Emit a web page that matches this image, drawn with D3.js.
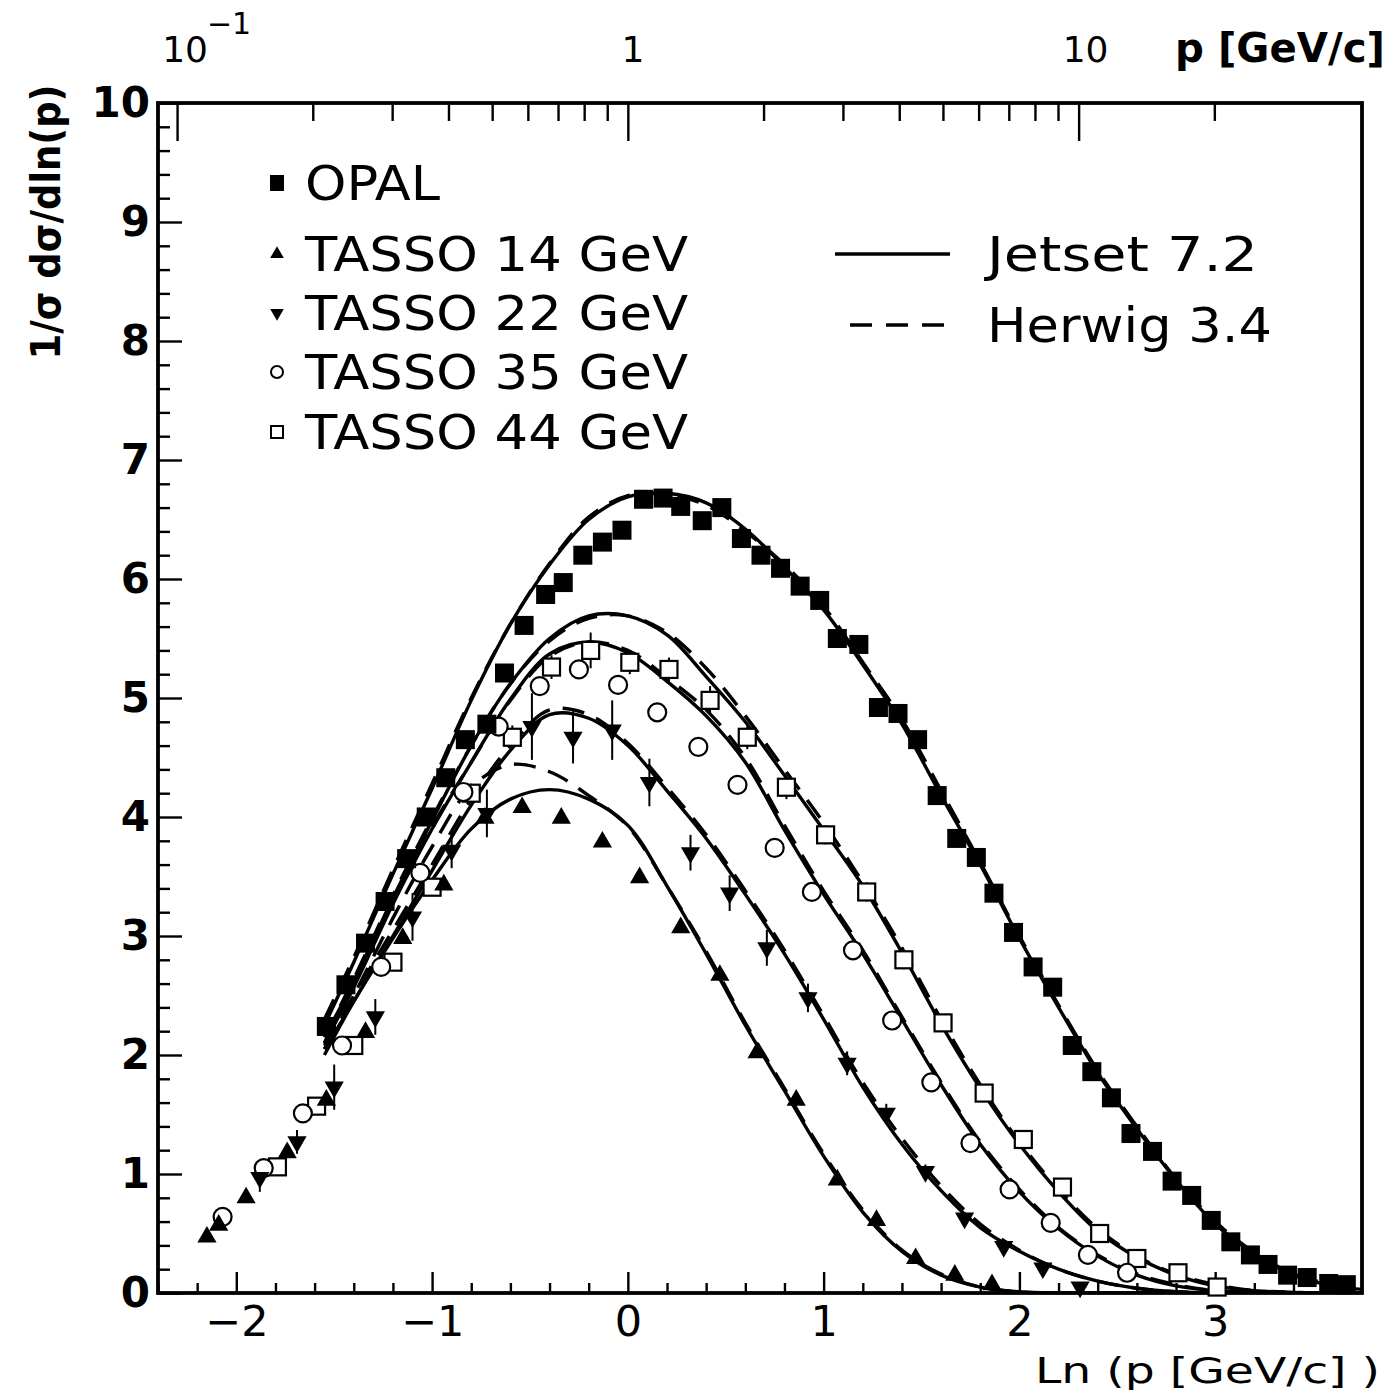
<!DOCTYPE html>
<html><head><meta charset="utf-8">
<script src="https://cdn.jsdelivr.net/npm/d3@7"></script>
<style>html,body{margin:0;padding:0;background:#fff}svg{display:block}text{font-family:"DejaVu Sans",sans-serif;fill:#000}</style>
</head><body>
<svg id="c" width="1398" height="1396"></svg>
<script>
// ---- data ----
const opalX = [-1.54,-1.44,-1.34,-1.24,-1.13,-1.03,-0.93,-0.83,-0.72,-0.63,-0.53,-0.42,-0.33,-0.23,-0.13,-0.03,0.08,0.18,0.27,0.38,0.48,0.58,0.68,0.78,0.88,0.98,1.07,1.18,1.28,1.38,1.48,1.58,1.68,1.78,1.87,1.97,2.07,2.17,2.27,2.37,2.47,2.57,2.68,2.78,2.88,2.98,3.08,3.18,3.27,3.37,3.47,3.58,3.67];
const opalY = [2.24,2.59,2.94,3.29,3.65,4.0,4.33,4.65,4.78,5.21,5.61,5.87,5.97,6.20,6.31,6.41,6.67,6.68,6.61,6.49,6.60,6.34,6.20,6.09,5.94,5.82,5.50,5.45,4.92,4.87,4.65,4.18,3.82,3.66,3.36,3.03,2.74,2.57,2.08,1.86,1.64,1.34,1.19,0.94,0.82,0.61,0.43,0.32,0.24,0.15,0.13,0.08,0.07];

const t14X = [-2.15,-2.09,-1.95,-1.74,-1.54,-1.34,-1.15,-0.94,-0.73,-0.54,-0.34,-0.13,0.06,0.27,0.47,0.66,0.86,1.07,1.27,1.47,1.67,1.86];
const t14Y = [0.47,0.57,0.80,1.18,1.62,2.19,2.98,3.43,3.99,4.08,3.99,3.79,3.49,3.07,2.67,2.02,1.62,0.95,0.61,0.29,0.15,0.07];

const t22X = [-1.88,-1.69,-1.50,-1.29,-1.10,-0.90,-0.72,-0.49,-0.28,-0.08,0.11,0.32,0.52,0.71,0.92,1.12,1.32,1.52,1.72,1.92,2.12,2.31];
const t22Y = [0.97,1.27,1.73,2.32,3.16,3.72,4.03,4.76,4.67,4.73,4.29,3.70,3.36,2.90,2.48,1.93,1.51,1.02,0.63,0.39,0.21,0.05];
const t22E = [0.12,0.10,0.19,0.15,0.20,0.15,0.20,0.28,0.22,0.25,0.20,0.15,0.15,0.15,0.12,0.10,0.08,0.06,0.05,0.04,0.03,0.03];

const t35X = [-2.07,-1.86,-1.66,-1.46,-1.26,-1.06,-0.84,-0.66,-0.45,-0.25,-0.05,0.15,0.36,0.56,0.75,0.94,1.15,1.35,1.55,1.75,1.95,2.16,2.35,2.55];
const t35Y = [0.64,1.05,1.51,2.08,2.74,3.53,4.21,4.76,5.10,5.24,5.11,4.88,4.59,4.27,3.74,3.37,2.88,2.29,1.77,1.26,0.87,0.59,0.32,0.17];

const t44X = [-1.79,-1.59,-1.40,-1.20,-1.00,-0.80,-0.59,-0.39,-0.19,0.01,0.21,0.42,0.61,0.81,1.01,1.22,1.41,1.61,1.82,2.02,2.22,2.41,2.60,2.81,3.01];
const t44Y = [1.06,1.57,2.08,2.78,3.41,4.20,4.67,5.26,5.40,5.30,5.24,4.98,4.67,4.25,3.85,3.37,2.80,2.27,1.68,1.29,0.89,0.50,0.29,0.17,0.05];
const t44E = [0.05,0.05,0.06,0.06,0.07,0.08,0.10,0.10,0.15,0.10,0.10,0.12,0.10,0.10,0.08,0.08,0.08,0.07,0.07,0.06,0.05,0.05,0.04,0.04,0.03];

const curveX = [-1.55,-1.4,-1.2,-1.0,-0.8,-0.6,-0.4,-0.2,0,0.2,0.4,0.6,0.8,1.0,1.2,1.4,1.6,1.8,2.0,2.2,2.4,2.6,2.8,3.0,3.2,3.4,3.6,3.75];
const jetset91 = [2.25,2.78,3.52,4.24,4.98,5.62,6.12,6.5,6.69,6.72,6.64,6.42,6.1,5.74,5.28,4.78,4.18,3.6,2.98,2.4,1.85,1.38,0.95,0.58,0.33,0.15,0.06,0.03];
const jetset44 = [2.15,2.62,3.32,3.97,4.6,5.12,5.5,5.69,5.69,5.53,5.18,4.8,4.35,3.89,3.42,2.86,2.26,1.72,1.25,0.85,0.52,0.3,0.15,0.06,0.02,0.005,0,0];
const jetset35 = [2.1,2.57,3.27,3.9,4.46,4.99,5.37,5.47,5.38,5.14,4.85,4.46,3.89,3.35,2.85,2.3,1.75,1.25,0.85,0.54,0.31,0.15,0.06,0.02,0.005,0,0,0];
const jetset22 = [2.05,2.45,3.0,3.55,4.1,4.56,4.86,4.83,4.6,4.22,3.82,3.35,2.85,2.3,1.73,1.25,0.86,0.55,0.35,0.2,0.1,0.04,0.01,0,0,0,0,0];
const jetset14 = [2.0,2.45,2.98,3.47,3.9,4.15,4.23,4.15,3.93,3.42,2.85,2.25,1.7,1.15,0.68,0.35,0.15,0.05,0.01,0,0,0,0,0,0,0,0,0];
const herwig91 = [2.3,2.82,3.56,4.28,5.0,5.62,6.13,6.52,6.7,6.71,6.62,6.4,6.12,5.77,5.3,4.82,4.22,3.62,3.0,2.42,1.87,1.4,0.96,0.6,0.34,0.16,0.07,0.03];
const herwig44 = [2.15,2.64,3.34,3.99,4.6,5.12,5.48,5.67,5.69,5.55,5.25,4.85,4.4,3.95,3.45,2.9,2.3,1.75,1.27,0.87,0.54,0.31,0.16,0.07,0.02,0.005,0,0];
const herwig35 = [2.1,2.6,3.3,3.92,4.46,4.98,5.35,5.47,5.4,5.17,4.9,4.5,3.93,3.38,2.88,2.32,1.77,1.27,0.87,0.55,0.32,0.16,0.07,0.02,0.005,0,0,0];
const herwig22 = [2.08,2.5,3.05,3.6,4.15,4.6,4.9,4.86,4.62,4.25,3.85,3.38,2.88,2.33,1.77,1.3,0.9,0.58,0.36,0.2,0.1,0.04,0.01,0,0,0,0,0];
const herwig14 = [2.05,2.5,3.15,3.75,4.25,4.44,4.38,4.18,3.92,3.42,2.87,2.27,1.72,1.17,0.7,0.36,0.16,0.05,0.01,0,0,0,0,0,0,0,0,0];

const xMajor = [-2,-1,0,1,2,3];
const yMajor = [0,1,2,3,4,5,6,7,8,9,10];
const pMajor = [0.1,1,10];
const pMinor = [0.2,0.3,0.4,0.5,0.6,0.7,0.8,0.9,2,3,4,5,6,7,8,9,20];
const legendData = ["OPAL","TASSO 14 GeV","TASSO 22 GeV","TASSO 35 GeV","TASSO 44 GeV"];
const modelLabels = ["Jetset 7.2","Herwig 3.4"];

// ---- layout ----
const L=158, R=1362, T=103, B=1293;
const svg = d3.select("#c");
const x = d3.scaleLinear().domain([-2.4,3.75]).range([L,R]);
const y = d3.scaleLinear().domain([0,10]).range([B,T]);
const p = d3.scaleLog().domain([Math.exp(-2.4),Math.exp(3.75)]).range([L,R]);

svg.append("defs").append("clipPath").attr("id","clip").append("rect").attr("x",L).attr("y",T).attr("width",R-L).attr("height",B-T);

function styleAxis(g){ g.select(".domain").remove(); g.selectAll(".tick line").attr("stroke","#000").attr("stroke-width",2.4); }

// bottom axis
const xMinor = d3.range(-2.4,3.75,0.2).map(v=>+v.toFixed(2)).filter(v=>Math.abs(v-Math.round(v))>0.01);
svg.append("g").attr("transform",`translate(0,${B})`).call(d3.axisBottom(x).tickValues(xMinor).tickSize(-10).tickFormat("")).call(styleAxis);
const gxb = svg.append("g").attr("transform",`translate(0,${B})`).call(d3.axisBottom(x).tickValues(xMajor).tickSize(-21).tickPadding(11).tickFormat(d=>d<0?"\u2212"+(-d):d)).call(styleAxis);
gxb.selectAll("text").attr("font-size",43).attr("dy","0.75em").attr("font-family","DejaVu Sans");

// left axis
const yMinor = d3.range(0,10,0.2).map(v=>+v.toFixed(2)).filter(v=>Math.abs(v-Math.round(v))>0.01);
svg.append("g").attr("transform",`translate(${L},0)`).call(d3.axisLeft(y).tickValues(yMinor).tickSize(-12).tickFormat("")).call(styleAxis);
const gyl = svg.append("g").attr("transform",`translate(${L},0)`).call(d3.axisLeft(y).tickValues(yMajor).tickSize(-24).tickPadding(10).tickFormat(d3.format("d"))).call(styleAxis);
gyl.selectAll("text").attr("font-size",42).attr("font-weight","bold").attr("x",-8).attr("font-family","DejaVu Sans");

// top axis (momentum, log)
svg.append("g").attr("transform",`translate(0,${T})`).call(d3.axisTop(p).tickValues(pMinor).tickSize(-18).tickFormat("")).call(styleAxis);
svg.append("g").attr("transform",`translate(0,${T})`).call(d3.axisTop(p).tickValues(pMajor).tickSize(-38).tickFormat("")).call(styleAxis);

// top labels
const topLab = svg.append("g").attr("font-size",36);
topLab.append("text").attr("x",p(0.1)+8).attr("y",62).attr("text-anchor","middle").text("10");
topLab.append("text").attr("x",p(0.1)+52).attr("y",34).attr("text-anchor","middle").attr("font-size",30).text("\u22121");
topLab.append("text").attr("x",p(1)+5).attr("y",62).attr("text-anchor","middle").text("1");
topLab.append("text").attr("x",p(10)+7).attr("y",62).attr("text-anchor","middle").text("10");
topLab.append("text").attr("x",1385).attr("y",62).attr("text-anchor","end").attr("font-size",40).attr("font-weight","bold").attr("textLength",210).attr("lengthAdjust","spacingAndGlyphs").text("p [GeV/c]");

// axis titles
svg.append("text").attr("x",1380).attr("y",1383).attr("text-anchor","end").attr("font-size",36).attr("textLength",345).attr("lengthAdjust","spacingAndGlyphs").text("Ln (p [GeV/c] )");
svg.append("text").attr("transform","translate(60,222) rotate(-90)").attr("text-anchor","middle").attr("font-size",40).attr("font-weight","bold").attr("textLength",275).attr("lengthAdjust","spacingAndGlyphs").text("1/\u03c3 d\u03c3/dln(p)");

// frame
svg.append("rect").attr("x",L).attr("y",T).attr("width",R-L).attr("height",B-T).attr("fill","none").attr("stroke","#000").attr("stroke-width",3.8);

// curves
const line = d3.line().x((d,i)=>x(curveX[i])).y(d=>y(d)).curve(d3.curveCatmullRom.alpha(0.5));
const plot = svg.append("g");
const curves = plot.append("g").attr("clip-path","url(#clip)");
[herwig91,herwig44,herwig35,herwig22,herwig14].forEach(s=>{
  curves.append("path").attr("d",line(s)).attr("fill","none").attr("stroke","#000").attr("stroke-width",3.4).attr("stroke-dasharray","22,13");
});
[jetset91,jetset44,jetset35,jetset22,jetset14].forEach(s=>{
  curves.append("path").attr("d",line(s)).attr("fill","none").attr("stroke","#000").attr("stroke-width",3.4);
});

// symbols
const tri = d3.symbol().type(d3.symbolTriangle).size(160);
function errBars(xs,ys,es){
  plot.append("g").selectAll("line").data(xs).join("line")
    .attr("x1",(d)=>x(d)).attr("x2",d=>x(d))
    .attr("y1",(d,i)=>y(ys[i]+es[i])).attr("y2",(d,i)=>y(Math.max(0,ys[i]-es[i])))
    .attr("stroke","#000").attr("stroke-width",2);
}
errBars(t22X,t22Y,t22E);
errBars(t44X,t44Y,t44E);

// TASSO 44 open squares
plot.append("g").selectAll("rect").data(t44X).join("rect")
  .attr("x",d=>x(d)-8.5).attr("y",(d,i)=>y(t44Y[i])-8.5).attr("width",17).attr("height",17)
  .attr("fill","#fff").attr("stroke","#000").attr("stroke-width",2.2);
// TASSO 35 open circles
plot.append("g").selectAll("circle").data(t35X).join("circle")
  .attr("cx",d=>x(d)).attr("cy",(d,i)=>y(t35Y[i])).attr("r",9)
  .attr("fill","#fff").attr("stroke","#000").attr("stroke-width",2.2);
// TASSO 22 down triangles
plot.append("g").selectAll("path").data(t22X).join("path")
  .attr("d",tri).attr("transform",(d,i)=>`translate(${x(d)},${y(t22Y[i])}) rotate(180)`).attr("fill","#000");
// TASSO 14 up triangles
plot.append("g").selectAll("path").data(t14X).join("path")
  .attr("d",tri).attr("transform",(d,i)=>`translate(${x(d)},${y(t14Y[i])})`).attr("fill","#000");
// OPAL filled squares
plot.append("g").selectAll("rect").data(opalX).join("rect")
  .attr("x",d=>x(d)-9.5).attr("y",(d,i)=>y(opalY[i])-9.5).attr("width",19).attr("height",19)
  .attr("fill","#000");

// legend
const leg = svg.append("g");
const legY = [183,254,313,372,432];
const legW = [135,383,383,383,383];
legendData.forEach((t,i)=>{
  const cy = legY[i], cx = 277;
  if(i===0) leg.append("rect").attr("x",cx-7).attr("y",cy-8).attr("width",14).attr("height",16).attr("fill","#000");
  if(i===1) leg.append("path").attr("d",d3.symbol().type(d3.symbolTriangle).size(80)).attr("transform",`translate(${cx},${cy})`);
  if(i===2) leg.append("path").attr("d",d3.symbol().type(d3.symbolTriangle).size(80)).attr("transform",`translate(${cx},${cy}) rotate(180)`);
  if(i===3) leg.append("circle").attr("cx",cx).attr("cy",cy).attr("r",6).attr("fill","none").attr("stroke","#000").attr("stroke-width",2);
  if(i===4) leg.append("rect").attr("x",cx-6).attr("y",cy-6).attr("width",12).attr("height",12).attr("fill","none").attr("stroke","#000").attr("stroke-width",2);
  leg.append("text").attr("x",305).attr("y",cy+17).attr("font-size",48).attr("textLength",legW[i]).attr("lengthAdjust","spacingAndGlyphs").text(t);
});
leg.append("line").attr("x1",835).attr("x2",950).attr("y1",254).attr("y2",254).attr("stroke","#000").attr("stroke-width",3.4);
leg.append("line").attr("x1",850).attr("x2",950).attr("y1",325).attr("y2",325).attr("stroke","#000").attr("stroke-width",3.4).attr("stroke-dasharray","22,14");
leg.append("text").attr("x",987).attr("y",271).attr("font-size",48).attr("textLength",271).attr("lengthAdjust","spacingAndGlyphs").text(modelLabels[0]);
leg.append("text").attr("x",987).attr("y",342).attr("font-size",48).attr("textLength",285).attr("lengthAdjust","spacingAndGlyphs").text(modelLabels[1]);
</script>
</body></html>
